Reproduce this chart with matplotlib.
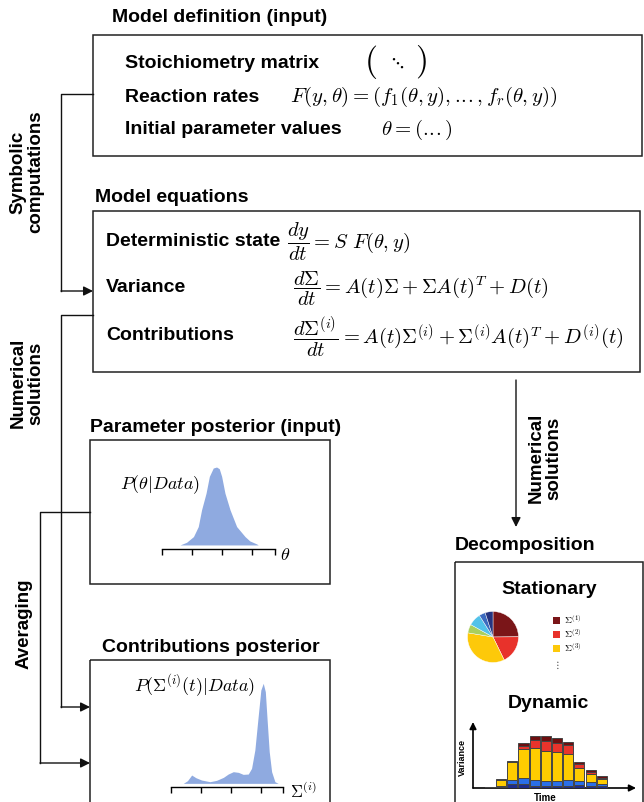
import matplotlib
matplotlib.use("Agg")
import matplotlib.pyplot as plt
from matplotlib.patches import Rectangle

plt.rcParams['font.family'] = ['Liberation Sans', 'DejaVu Sans']
plt.rcParams['mathtext.fontset'] = 'cm'

W, H = 644, 802

# posterior of the parameter (x in tick units, height arbitrary)
theta_x = [0.61, 0.83, 1.06, 1.22, 1.33, 1.48, 1.59, 1.72, 1.83, 1.92, 2.0,
           2.11, 2.28, 2.5, 2.78, 2.94, 3.17, 3.22]
theta_p = [0, 8, 25, 55, 105, 155, 205, 230, 233, 228, 205, 155, 105, 55,
           25, 12, 3, 0]

# posterior of the contributions
contrib_x = [0.42, 0.56, 0.70, 0.84, 1.03, 1.31, 1.53, 1.76, 1.92, 2.09, 2.26,
             2.42, 2.59, 2.70, 2.81, 2.92, 3.01, 3.09, 3.16, 3.22, 3.29, 3.37,
             3.48, 3.59]
contrib_p = [0, 8, 25, 17, 10, 5, 9, 18, 28, 35, 33, 27, 28, 45, 100, 200,
             280, 300, 275, 190, 95, 35, 5, 0]

# stationary decomposition (pie)
pie_vals = [25, 18, 35, 5.5, 8, 4, 5]
pie_cols = ['#7A1518', '#E8322B', '#FDC90A', '#A9CF5E', '#52C2EA', '#3C6BBF', '#26347F']
legend_labels = [r'$\Sigma^{(1)}$', r'$\Sigma^{(2)}$', r'$\Sigma^{(3)}$']

# dynamic decomposition (stacked bars, bottom to top)
bar_dkblue = [2, 3, 12, 12, 7, 5, 5, 7, 10, 7, 5]
bar_blue = [1, 4, 13, 17, 18, 17, 17, 18, 10, 10, 7]
bar_yellow = [0, 18, 52, 88, 95, 88, 86, 76, 40, 25, 16]
bar_red = [0, 0, 0, 10, 25, 30, 27, 27, 12, 7, 3]
bar_dkred = [1, 2, 5, 8, 10, 15, 14, 11, 7, 6, 5]
bar_cols = ['#1E2C8C', '#2A6FE8', '#FFCC00', '#E8342C', '#6E0F10']


def px_axes(x0, y0, x1, y1):
    return fig.add_axes([x0 / W, 1 - y1 / H, (x1 - x0) / W, (y1 - y0) / H])


fig = plt.figure(figsize=(W / 100, H / 100), dpi=100)
ax = fig.add_axes([0, 0, 1, 1])
ax.set_xlim(0, W)
ax.set_ylim(H, 0)
ax.axis('off')

bold = dict(fontweight='bold', color='black')
FS = 14

# boxes
for (x0, y0, x1, y1) in [(93, 35, 642, 156), (93, 211, 640, 372),
                         (90, 440, 330, 584), (90, 660, 330, 812),
                         (455, 562, 643, 812)]:
    ax.add_patch(Rectangle((x0, y0), x1 - x0, y1 - y0, fill=False, lw=1.1, ec='#222222'))

# titles
ax.text(112, 18, 'Model definition (input)', fontsize=FS, va='center', **bold)
ax.text(95, 198, 'Model equations', fontsize=FS, va='center', **bold)
ax.text(90, 427, 'Parameter posterior (input)', fontsize=FS, va='center', **bold)
ax.text(102, 648, 'Contributions posterior', fontsize=FS, va='center', **bold)
ax.text(455, 545, 'Decomposition', fontsize=FS, va='center', **bold)

# box 1 content
ax.text(125, 63, 'Stoichiometry matrix', fontsize=FS, va='center', **bold)
ax.text(125, 97, 'Reaction rates', fontsize=FS, va='center', **bold)
ax.text(125, 130, 'Initial parameter values', fontsize=FS, va='center', **bold)
ax.text(371, 62, r'$($', fontsize=24, va='center', ha='center')
ax.text(396, 63, r'$\ddots$', fontsize=14, va='center', ha='center')
ax.text(421, 62, r'$)$', fontsize=24, va='center', ha='center')
ax.text(290, 97, r'$F(y,\theta)=(f_1(\theta,y),.\!.\!.,f_r(\theta,y))$', fontsize=15, va='center')
ax.text(381, 130, r'$\theta=(.\!.\!.)$', fontsize=15, va='center')

# box 2 content
ax.text(106, 241, 'Deterministic state', fontsize=FS, va='center', **bold)
ax.text(106, 288, 'Variance', fontsize=FS, va='center', **bold)
ax.text(106, 335, 'Contributions', fontsize=FS, va='center', **bold)
ax.text(287, 242, r'$\dfrac{dy}{dt}=S\ F(\theta,y)$', fontsize=14.8, va='center')
ax.text(293, 289, r'$\dfrac{d\Sigma}{dt}=A(t)\Sigma+\Sigma A(t)^T+D(t)$', fontsize=14.8, va='center')
ax.text(293, 337, r'$\dfrac{d\Sigma^{(i)}}{dt}=A(t)\Sigma^{(i)}+\Sigma^{(i)}A(t)^T+D^{(i)}(t)$',
        fontsize=14.8, va='center')

# connectors
lk = dict(color='#111111', lw=1.0)
arr = dict(arrowstyle='-|>', color='#111111', lw=1.0, mutation_scale=14, shrinkA=0, shrinkB=0)
ax.plot([93, 61, 61], [94, 94, 291], **lk)
ax.annotate('', xy=(93, 291), xytext=(61, 291), arrowprops=arr)
ax.plot([93, 61, 61], [315, 315, 707], **lk)
ax.annotate('', xy=(90, 707), xytext=(61, 707), arrowprops=arr)
ax.plot([90, 40, 40], [512, 512, 763], **lk)
ax.annotate('', xy=(90, 763), xytext=(40, 763), arrowprops=arr)
ax.annotate('', xy=(516, 527), xytext=(516, 380), arrowprops=arr)

# side labels
side = dict(fontsize=13.5, rotation=90, ha='center', va='center', linespacing=1.05, **bold)
ax.text(27, 172, 'Symbolic\ncomputations', **side)
ax.text(27, 383, 'Numerical\nsolutions', **side)
ax.text(24, 624, 'Averaging', **side)
ax.text(545, 458, 'Numerical\nsolutions', **side)

# parameter posterior
fill_col = '#8FAAE0'
pa = px_axes(161.7, 460, 275, 549.3)
pa.fill_between(theta_x, theta_p, color=fill_col, lw=0)
pa.set_xlim(0, 3.78)
pa.set_ylim(-13, 254)
for s in ['top', 'right', 'left']:
    pa.spines[s].set_visible(False)
pa.spines['bottom'].set_linewidth(1.0)
pa.set_yticks([])
pa.set_xticks([0, 1, 2, 3, 3.78])
pa.set_xticklabels([])
pa.tick_params(axis='x', direction='out', length=4, width=1.0)
pa.patch.set_alpha(0)
ax.text(120, 485, r'$P(\theta|Data)$', fontsize=13, va='center')
ax.text(280, 556, r'$\theta$', fontsize=13, va='center')

# contributions posterior
ca = px_axes(170.7, 680, 283.3, 786.7)
ca.fill_between(contrib_x, contrib_p, color=fill_col, lw=0)
ca.set_xlim(0, 3.76)
ca.set_ylim(-10, 310)
for s in ['top', 'right', 'left']:
    ca.spines[s].set_visible(False)
ca.spines['bottom'].set_linewidth(1.0)
ca.set_yticks([])
ca.set_xticks([0, 1, 2, 3, 3.76])
ca.set_xticklabels([])
ca.tick_params(axis='x', direction='out', length=4, width=1.0)
ca.patch.set_alpha(0)
ax.text(134, 686, r'$P(\Sigma^{(i)}(t)|Data)$', fontsize=13, va='center')
ax.text(290, 791, r'$\Sigma^{(i)}$', fontsize=12, va='center')

# stationary
ax.text(549, 590, 'Stationary', fontsize=FS, ha='center', va='center', **bold)
pie_ax = px_axes(467, 611, 519, 663)
pie_ax.pie(pie_vals, colors=pie_cols, startangle=90, counterclock=False,
           wedgeprops=dict(linewidth=0.3, edgecolor='white'))
pie_ax.set_xlim(-1.02, 1.02)
pie_ax.set_ylim(-1.02, 1.02)
pie_ax.set_aspect('equal')
for i, lab in enumerate(legend_labels):
    yy = 620 + 14 * i
    ax.add_patch(Rectangle((553, yy - 3.5), 7, 7, color=pie_cols[i], lw=0))
    ax.text(564, yy, lab, fontsize=7, va='center')
ax.text(557, 665, r'$\vdots$', fontsize=8, ha='center', va='center', color='#555555')

# dynamic
ax.text(548, 703, 'Dynamic', fontsize=FS, ha='center', va='center', **bold)
ba = px_axes(473, 723, 635, 788)
xs = list(range(len(bar_dkblue)))
bottom = [0] * len(xs)
for vals, col in zip([bar_dkblue, bar_blue, bar_yellow, bar_red, bar_dkred], bar_cols):
    ba.bar(xs, vals, bottom=bottom, width=0.9, color=col, edgecolor='#444444', linewidth=0.7)
    bottom = [b + v for b, v in zip(bottom, vals)]
ba.set_xlim(-1.52, 12.98)
ba.set_ylim(0, 195)
ba.axis('off')
arr2 = dict(arrowstyle='-|>', color='black', lw=1.2, mutation_scale=10, shrinkA=0, shrinkB=0)
ax.annotate('', xy=(473, 722), xytext=(473, 788), arrowprops=arr2)
ax.annotate('', xy=(636, 788), xytext=(473, 788), arrowprops=arr2)
ax.text(462, 758, 'Variance', fontsize=6.5, rotation=90, ha='center', va='center', **bold)
ax.text(545, 798, 'Time', fontsize=7, ha='center', va='center', **bold)

fig.savefig('out.png', dpi=100)
